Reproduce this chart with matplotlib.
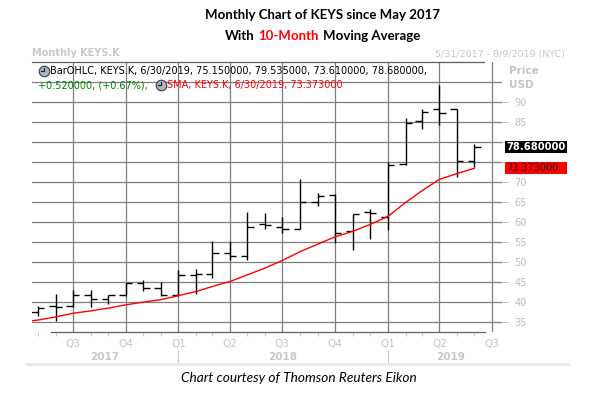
import datetime as dt
import numpy as np
import pandas as pd
import matplotlib
matplotlib.use('Agg')
import matplotlib.pyplot as plt
import matplotlib.dates as mdates
from matplotlib.patches import Rectangle
from matplotlib.lines import Line2D
from matplotlib.transforms import blended_transform_factory

W, H = 596, 394

# monthly OHLC bars of KEYS.K, May 2017 - Jun 2019
months = pd.date_range('2017-05-01', '2019-06-01', freq='MS').to_pydatetime()
opens = [37.4, 38.9, 38.9, 41.6, 40.6, 41.6, 44.6, 43.4, 41.7, 46.6, 46.9, 52.3, 51.4,
         59.4, 58.6, 58.1, 64.9, 66.6, 57.6, 62.5, 61.2, 74.5, 85.1, 88.2, 88.2, 75.15]
highs = [39.0, 42.0, 43.0, 43.0, 41.7, 44.7, 45.5, 45.0, 48.0, 48.1, 55.2, 55.2, 62.5,
         62.2, 61.3, 70.6, 67.3, 66.9, 61.9, 63.2, 74.9, 86.0, 88.3, 94.1, 88.3, 79.535]
lows = [36.4, 35.3, 38.7, 38.8, 39.4, 41.5, 42.6, 41.4, 41.5, 42.0, 46.0, 50.4, 50.5,
        58.1, 57.1, 58.1, 63.9, 54.8, 53.0, 55.8, 58.0, 74.3, 83.3, 84.3, 71.2, 73.61]
closes = [38.5, 38.6, 41.6, 40.6, 41.6, 44.6, 43.4, 41.6, 46.6, 46.9, 52.3, 51.4, 58.6,
          59.3, 58.1, 65.0, 66.5, 57.1, 61.9, 62.2, 74.2, 84.6, 87.4, 87.2, 75.3, 78.68]

# 10-month simple moving average (from Apr 2017)
sma_months = pd.date_range('2017-04-01', '2019-06-01', freq='MS').to_pydatetime()
sma = [34.9, 35.4, 36.2, 37.1, 37.7, 38.4, 39.2, 39.9, 40.5, 41.5, 42.55, 43.8, 45.05,
       46.7, 48.4, 50.3, 52.5, 54.4, 56.2, 57.6, 59.3, 61.3, 64.8, 67.7, 70.6, 72.0, 73.373]

quarters = pd.date_range('2017-07-01', '2019-07-01', freq='QS').to_pydatetime()
quarter_labels = ['Q%d' % ((q.month - 1) // 3 + 1) for q in quarters]
years = [2017, 2018, 2019]
range_start = dt.datetime(2017, 4, 21)
range_end = dt.datetime(2019, 8, 9)

legend_date = '6/30/2019'
change_txt = '+0.520000, (+0.67%), '


def fx(x):
    return x / W


def fy(y):
    return 1 - y / H


fig = plt.figure(figsize=(W / 100, H / 100), dpi=100)
ax = fig.add_axes([fx(32), fy(332.3), 470 / W, 270.3 / H])
ax.set_xlim(range_start, dt.datetime(2019, 7, 19))
ax.set_ylim(32.35, 99.93)

# bars
tick = dt.timedelta(days=11)
ax.vlines(months, lows, highs, color='black', lw=1.0, zorder=3)
ax.hlines(opens, months - tick, months, color='black', lw=1.0, zorder=3)
ax.hlines(closes, months, months + tick, color='black', lw=1.0, zorder=3)
ax.plot(sma_months, sma, color='#ff0000', lw=1.0, zorder=4)

# grid + axes
for s in ax.spines.values():
    s.set_visible(False)
ax.set_axisbelow(True)
ax.grid(True, color='#7f7f7f', lw=0.9)
ax.set_xticks(quarters)
ax.set_xticklabels(quarter_labels)
ax.xaxis.set_minor_locator(mdates.MonthLocator())
ax.tick_params(axis='x', which='major', length=0, pad=5, labelsize=7.5, labelcolor='#c4c4c4')
ax.tick_params(axis='x', which='minor', length=3, width=0.8, color='#cccccc')

# 75 and 80 sit under the value boxes, 95 has no label
yt = np.arange(35, 96, 5)
ax.set_yticks(yt)
ax.set_yticklabels([str(v) if v not in (75, 80, 95) else '' for v in yt])
ax.yaxis.tick_right()
ax.tick_params(axis='y', length=4, width=0.8, color='#c0c0c0', pad=5,
               labelsize=7, labelcolor='#bdbdbd')
ax.yaxis.get_major_ticks()[-1].tick2line.set_visible(False)

ax.plot([0, 0.9617], [1, 1], transform=ax.transAxes, color='#606060', lw=0.9, clip_on=False)
ax.plot([0.0404, 0.9638], [0, 0], transform=ax.transAxes, color='#606060', lw=0.9, clip_on=False)

# last value boxes
tr = blended_transform_factory(ax.transAxes, ax.transData)
bx, bw, bh = (505 - 32) / 470, 62 / 470, 2.9
ax.add_patch(Rectangle((bx, closes[-1] - bh / 2), bw, bh, transform=tr, fc='black',
                       ec='none', clip_on=False, zorder=6))
ax.text(bx + 0.002, closes[-1], '%.6f' % closes[-1], transform=tr, color='white',
        fontsize=7.2, fontweight='bold', va='center', ha='left', zorder=7, clip_on=False)
ax.add_patch(Rectangle((bx, sma[-1] - bh / 2), bw, bh, transform=tr, fc='#ff0000',
                       ec='none', clip_on=False, zorder=6))
ax.text(bx + 0.003, sma[-1], '%.6f' % sma[-1], transform=tr, color='#1a0000',
        fontsize=7, va='center', ha='left', zorder=7, clip_on=False)

# year labels below quarters
ytr = blended_transform_factory(ax.transData, fig.transFigure)
for y in years:
    a = max(range_start, dt.datetime(y, 1, 1))
    b = min(range_end, dt.datetime(y + 1, 1, 1))
    mid = a + (b - a) / 2
    ax.text(mid, fy(360), str(y), transform=ytr, ha='center', va='baseline',
            fontsize=7.5, fontweight='bold', color='#c8c8c8')
    if y > years[0]:
        ax.add_line(Line2D([dt.datetime(y, 1, 1)] * 2, [fy(350), fy(363)], transform=ytr,
                           color='#c8c8c8', lw=0.8, clip_on=False))
fig.add_artist(Rectangle((fx(26), fy(366)), (570 - 26) / W, 3 / H, transform=fig.transFigure,
                         fc='#e8e8e8', ec='none'))

# titles
tf = 'Lato'
fig.text(fx(322.5), fy(19), 'Monthly Chart of KEYS since May 2017', ha='center', va='baseline',
         fontsize=9.5, fontweight='bold', family=tf)
t1 = fig.text(fx(225), fy(39.5), 'With', ha='left', va='baseline', fontsize=9.5,
              fontweight='bold', family=tf)
t2 = ax.annotate('10-Month', xy=(1, 0), xycoords=t1, xytext=(4, 0), textcoords='offset pixels',
                 ha='left', va='bottom', fontsize=9.5, fontweight='bold', family=tf,
                 color='#ff0000', annotation_clip=False)
ax.annotate('Moving Average', xy=(1, 0), xycoords=t2, xytext=(4, 0), textcoords='offset pixels',
            ha='left', va='bottom', fontsize=9.5, fontweight='bold', family=tf,
            annotation_clip=False)

fig.text(fx(32), fy(56.5), 'Monthly KEYS.K', ha='left', va='baseline', fontsize=7,
         fontweight='bold', color='#c8c8c8')
fig.text(fx(565), fy(56.5), '5/31/2017 - 8/9/2019 (NYC)', ha='right', va='baseline',
         fontsize=6.8, color='#c8c8c8')
fig.text(fx(509), fy(74), 'Price', ha='left', va='baseline', fontsize=7.5, fontweight='bold',
         color='#c4c4c4')
fig.text(fx(509), fy(88), 'USD', ha='left', va='baseline', fontsize=7.5, fontweight='bold',
         color='#c4c4c4')

# legend lines
ohlc_txt = 'BarOHLC, KEYS.K, %s, %.6f, %.6f, %.6f, %.6f,' % (
    legend_date, opens[-1], highs[-1], lows[-1], closes[-1])
fig.text(fx(50), fy(74), ohlc_txt, ha='left', va='baseline', fontsize=7, color='black')
fig.text(fx(38), fy(88.3), change_txt, ha='left', va='baseline', fontsize=7, color='#008000')
fig.text(fx(167), fy(88.3), 'SMA, KEYS.K, %s, %.6f' % (legend_date, sma[-1]), ha='left',
         va='baseline', fontsize=7, color='#ff0000')

for cx, cy in [(43.8, 70.5), (161.3, 84.7)]:
    fig.add_artist(Line2D([fx(cx)], [fy(cy)], marker='o', ms=7.6, mfc='#aab4c2', mec='#3c3c3c',
                          mew=0.8, transform=fig.transFigure))
    fig.add_artist(Line2D([fx(cx), fx(cx), fx(cx - 3)], [fy(cy - 3), fy(cy), fy(cy)],
                          color='#202020', lw=0.8, transform=fig.transFigure))

fig.text(fx(298.5), fy(382.5), 'Chart courtesy of Thomson Reuters Eikon', ha='center',
         va='baseline', fontsize=9.8, fontstyle='italic', family=tf)

fig.savefig('out.png', dpi=100)
